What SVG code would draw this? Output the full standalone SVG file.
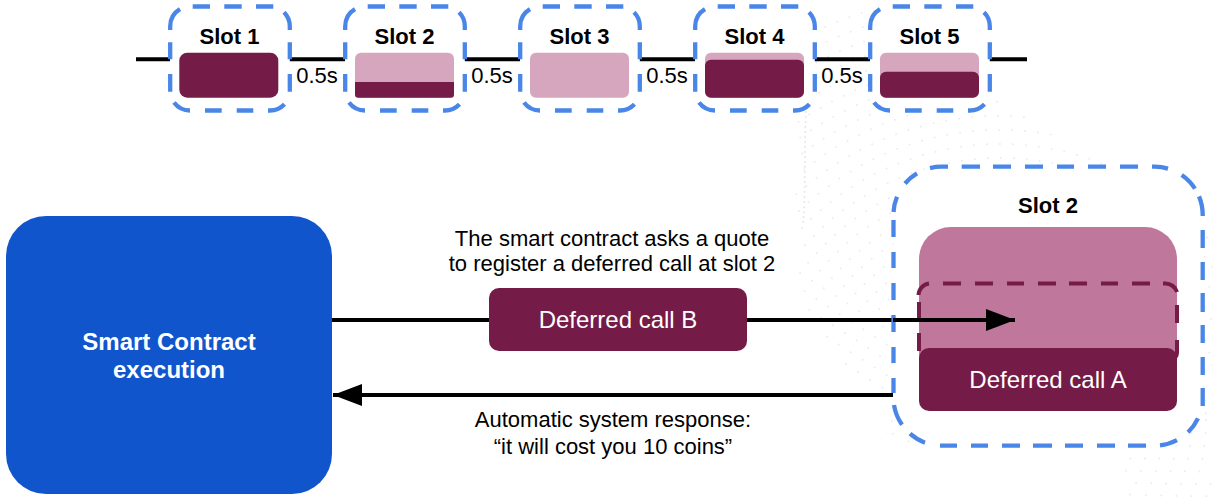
<svg xmlns="http://www.w3.org/2000/svg" width="1213" height="503" viewBox="0 0 1213 503">
<style>
text{font-family:"Liberation Sans",Arial,sans-serif;fill:#000;text-anchor:middle}
.lbl{font-size:22px}
.b{font-size:22px;font-weight:bold}
.w{font-size:24px;fill:#fff}
.frame{fill:#fff}
.slot{fill:none;stroke:#4a86e8;stroke-width:4.300}
.pale{fill:#d5a6bd}
.dark{fill:#741b47}
.wire{stroke:#000;stroke-width:4;fill:none}
.dots circle,.dots path{fill:none;stroke:#ececec;stroke-width:2;stroke-linecap:round;stroke-dasharray:0 13}
</style>
<defs>
<rect id="smf" x="170" y="6.500" width="119.800" height="104" rx="20"/>
<path id="sm" d="M170.200 30V26.500A20 20 0 0 1 180 9.200M192.700 6.500H210M224.300 6.500H241.700M256 6.500H273.300M284 12.200A20 20 0 0 1 289.800 26.500V30M289.800 42.300V59.300M289.800 74V91.700M284.500 104.300A20 20 0 0 1 270 110.500H268M253.300 110.500H236.700M221.700 110.500H205M190 110.500A20 20 0 0 1 174 102.500M170.200 91.700V74M170.200 59.300V42.300"/>
<marker id="ah" markerUnits="userSpaceOnUse" markerWidth="30" markerHeight="22" refX="29" refY="11" orient="auto"><path d="M0 0L29 11L0 22Z" fill="#000"/></marker>
<clipPath id="field"><path d="M800 0H850L990 95L1213 230V503H1130L1120 445H880V390L850 380L800 300L795 200Z"/></clipPath>
</defs>
<rect width="1213" height="503" fill="#fff"/>
<g id="texture" class="dots" clip-path="url(#field)">
<circle cx="1000" cy="420" r="80"/><circle cx="1000" cy="420" r="94"/><circle cx="1000" cy="420" r="108"/><circle cx="1000" cy="420" r="122"/><circle cx="1000" cy="420" r="136"/><circle cx="1000" cy="420" r="150"/><circle cx="1000" cy="420" r="164"/><circle cx="1000" cy="420" r="178"/><circle cx="1000" cy="420" r="192"/><circle cx="1000" cy="420" r="206"/><circle cx="1000" cy="420" r="220"/><circle cx="1000" cy="420" r="234"/><circle cx="1000" cy="420" r="248"/><circle cx="1000" cy="420" r="262"/><circle cx="1000" cy="420" r="276"/><circle cx="1000" cy="420" r="290"/><circle cx="1000" cy="420" r="304"/><circle cx="1000" cy="420" r="318"/><circle cx="1000" cy="420" r="332"/><circle cx="1000" cy="420" r="346"/><circle cx="1000" cy="420" r="360"/><circle cx="1000" cy="420" r="374"/><circle cx="1000" cy="420" r="388"/><circle cx="1000" cy="420" r="402"/><circle cx="1000" cy="420" r="416"/><circle cx="1000" cy="420" r="430"/>
<path d="M806 112C804 150 806 190 803 225" style="stroke-dasharray:0 5;stroke:#e6e6e6"/>
</g>
<g id="connectors">
<path class="wire" d="M136 59.300H1027"/>
<path class="wire" d="M330 320H1015" marker-end="url(#ah)"/>
<path class="wire" d="M893 395H333" marker-end="url(#ah)"/>
</g>
<g id="slot1"><use href="#smf" class="frame"/><use href="#sm" class="slot"/><text class="b" x="229.500" y="43.800">Slot 1</text><rect class="dark" x="179.300" y="52.700" width="99" height="45" rx="8"/></g>
<g id="slot2"><use href="#smf" x="175" class="frame"/><use href="#sm" x="175" class="slot"/><text class="b" x="404.500" y="43.800">Slot 2</text><rect class="pale" x="355" y="52.700" width="99" height="45" rx="6"/><path class="dark" d="M355 82H454V94.700A3 3 0 0 1 451 97.700H358A3 3 0 0 1 355 94.700Z"/></g>
<g id="slot3"><use href="#smf" x="350" class="frame"/><use href="#sm" x="350" class="slot"/><text class="b" x="579.500" y="43.800">Slot 3</text><rect class="pale" x="530" y="52.700" width="99" height="45" rx="6"/></g>
<g id="slot4"><use href="#smf" x="525" class="frame"/><use href="#sm" x="525" class="slot"/><text class="b" x="754.500" y="43.800">Slot 4</text><rect class="pale" x="705" y="52.700" width="99" height="45" rx="6"/><rect class="dark" x="705" y="59.700" width="99" height="38" rx="6"/></g>
<g id="slot5"><use href="#smf" x="700" class="frame"/><use href="#sm" x="700" class="slot"/><text class="b" x="929.500" y="43.800">Slot 5</text><rect class="pale" x="880" y="52.700" width="99" height="45" rx="6"/><rect class="dark" x="880" y="71.700" width="99" height="26" rx="6"/></g>
<g id="gaps"><text class="lbl" x="317" y="83">0.5s</text><text class="lbl" x="492" y="83">0.5s</text><text class="lbl" x="667" y="83">0.5s</text><text class="lbl" x="842" y="83">0.5s</text></g>
<g id="contract"><rect x="6" y="216" width="326" height="278" rx="40" fill="#1155cc"/><text class="b" x="169" y="350" style="fill:#fff;font-size:24px">Smart Contract</text><text class="b" x="169" y="378" style="fill:#fff;font-size:24px">execution</text></g>
<g id="callB"><rect class="dark" x="489" y="288" width="258" height="63" rx="10"/><text class="w" x="618" y="328">Deferred call B</text></g>
<text class="lbl" x="612" y="246">The smart contract asks a quote</text>
<text class="lbl" x="612" y="271">to register a deferred call at slot 2</text>
<text class="lbl" x="613" y="427">Automatic system response:</text>
<text class="lbl" x="613" y="454">“it will cost you 10 coins”</text>
<g id="bigslot">
<rect class="frame" x="893.500" y="166.700" width="309.200" height="279" rx="48"/>
<path class="slot" d="M893.500 212A48 48 0 0 1 897 196.700M905 183.500A48 48 0 0 1 917 173.400M930 168.100A48 48 0 0 1 941.500 166.700H948M961.700 166.700H980M993 166.700H1011M1025 166.700H1043M1057 166.700H1074M1088 166.700H1106M1120 166.700H1138M1152 166.700H1154.700A48 48 0 0 1 1168 168.600M1181.700 175A48 48 0 0 1 1195 188.700M1199 196.300A48 48 0 0 1 1202.700 214.700V216M1202.700 230V248M1202.700 262V280M1202.700 293V312M1202.700 325V343M1202.700 357V375M1202.700 388V406M1198 418.400A48 48 0 0 1 1188 432.300M1177 440.200A48 48 0 0 1 1160 445.400M1146 445.700H1128M1115 445.700H1097M1083 445.700H1065M1052 445.700H1033M1020 445.700H1002M988 445.700H971M957 445.700H940M925 442.700A48 48 0 0 1 910 433.700M902 424.700A48 48 0 0 1 894 405M893.500 393V378M893.500 363V347M893.500 332V315M893.500 300V283M893.500 268V252M893.500 237V220"/>
<text class="b" x="1048" y="213">Slot 2</text>
<path d="M951 227H1145A32 32 0 0 1 1177 259V360H919V259A32 32 0 0 1 951 227Z" fill="#bf779b"/>
<path d="M918.500 295A12 12 0 0 1 929 283.600M943 283.600H961M975 283.600H993M1007 283.600H1024M1038 283.600H1056M1069 283.600H1087M1101 283.600H1118M1132 283.600H1150M1163 283.600H1165A12 12 0 0 1 1177 292M1177 305V323M1177 340V352A8 8 0 0 1 1175 358M919 302V318M919 333V351" fill="none" stroke="#741b47" stroke-width="4"/>
<path class="wire" d="M893 320H1015" marker-end="url(#ah)"/>
<rect class="dark" x="919" y="348" width="258" height="63" rx="10"/>
<text class="w" x="1048" y="388">Deferred call A</text>
</g>
</svg>
